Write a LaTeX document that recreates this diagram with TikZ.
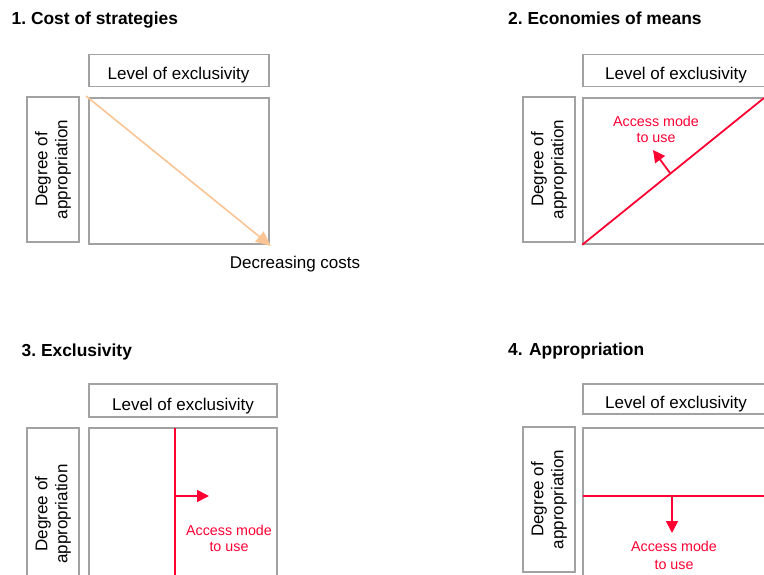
\documentclass[tikz,border=0pt]{standalone}
\usepackage{fontspec}
\setmainfont{Liberation Sans}
\usetikzlibrary{arrows.meta}
\definecolor{boxgray}{RGB}{162,162,162}
\definecolor{accred}{RGB}{255,0,51}
\definecolor{peach}{RGB}{250,196,148}
\frenchspacing
\begin{document}
\begin{tikzpicture}[x=1pt,y=-1pt,
  frame/.style={draw=boxgray, line width=1.6pt, inner sep=0pt},
  vbox/.style={frame, rotate=90, align=center, font=\fontsize{17}{20}\selectfont},
  title/.style={font=\fontsize{17.4}{20}\selectfont\bfseries, anchor=base west, inner sep=0pt},
  lbl/.style={font=\fontsize{17}{20}\selectfont, inner sep=0pt, anchor=base},
  redlbl/.style={font=\fontsize{14.3}{16}\selectfont, text=accred, align=center, inner sep=0pt},
  redline/.style={draw=accred, line width=1.8pt},
  redarrow/.style={draw=accred, line width=1.8pt, -{Triangle[length=12pt,width=12pt]}},
  peacharrow/.style={draw=peach, line width=1.6pt, -{Triangle[length=15pt,width=13pt]}},
]
\useasboundingbox (0,0) rectangle (764,574);
\clip (0,0) rectangle (764,574);

% ---------- Panel 1 ----------
\node[title] (T1) at (11.5,24.5) {1. Cost of strategies};
\node[frame, minimum width=180pt, minimum height=32pt] (t1) at (179,70.5) {};
\node[lbl] (t1txt) at (178.5,79) {Level of exclusivity};
\node[vbox, minimum width=145pt, minimum height=52pt] (l1) at (53,169.5) {Degree of\\appropriation};
\node[frame, minimum width=180pt, minimum height=146pt] (s1) at (179,171) {};
\coordinate (p1a) at (86,96);
\coordinate (p1b) at (271,246);
\draw[peacharrow] (p1a) -- (p1b);
\node[lbl] (d1) at (295,268) {Decreasing costs};

% ---------- Panel 2 ----------
\node[title] (T2) at (508,24.5) {2. Economies of means};
\node[frame, minimum width=187pt, minimum height=32pt] (t2) at (676.5,70.5) {};
\node[lbl] (t2txt) at (676,79) {Level of exclusivity};
\node[vbox, minimum width=145pt, minimum height=52pt] (l2) at (549,169.5) {Degree of\\appropriation};
\node[frame, minimum width=187pt, minimum height=146pt] (s2) at (676.5,171) {};
\coordinate (e2) at (764,98);
\draw[redline] (s2.south west) -- (e2);
\coordinate (m2) at (670,173);
\coordinate (a2) at (653,150);
\draw[redarrow] (m2) -- (a2);
\node[redlbl] (r2) at (656,129) {Access mode\\to use};

% ---------- Panel 3 ----------
\node[title] (T3) at (21.5,356) {3. Exclusivity};
\node[frame, minimum width=188pt, minimum height=33pt] (t3) at (183,400.5) {};
\node[lbl] (t3txt) at (183,410) {Level of exclusivity};
\node[vbox, minimum width=172pt, minimum height=52pt] (l3) at (53,514) {Degree of\\appropriation};
\node[frame, minimum width=188pt, minimum height=172pt] (s3) at (183,514) {};
\coordinate (v3a) at (175,428);
\coordinate (v3b) at (175,600);
\draw[redline] (v3a) -- (v3b);
\coordinate (m3) at (175,496);
\coordinate (a3) at (209,496);
\draw[redarrow] (m3) -- (a3);
\node[redlbl] (r3) at (229,538) {Access mode\\to use};

% ---------- Panel 4 ----------
\node[title] (T4) at (508,355.5) {\nonfrenchspacing 4. Appropriation};
\node[frame, minimum width=187pt, minimum height=30pt] (t4) at (676.5,399) {};
\node[lbl] (t4txt) at (676,408) {Level of exclusivity};
\node[vbox, minimum width=145pt, minimum height=52pt] (l4) at (549,499.5) {Degree of\\appropriation};
\node[frame, minimum width=187pt, minimum height=172pt] (s4) at (676.5,514) {};
\coordinate (h4a) at (583,496);
\coordinate (h4b) at (780,496);
\draw[redline] (h4a) -- (h4b);
\coordinate (m4) at (672,496);
\coordinate (a4) at (672,533);
\draw[redarrow] (m4) -- (a4);
\node[redlbl, font=\fontsize{14.3}{18}\selectfont] (r4) at (674,555) {Access mode\\to use};
\end{tikzpicture}
\end{document}
